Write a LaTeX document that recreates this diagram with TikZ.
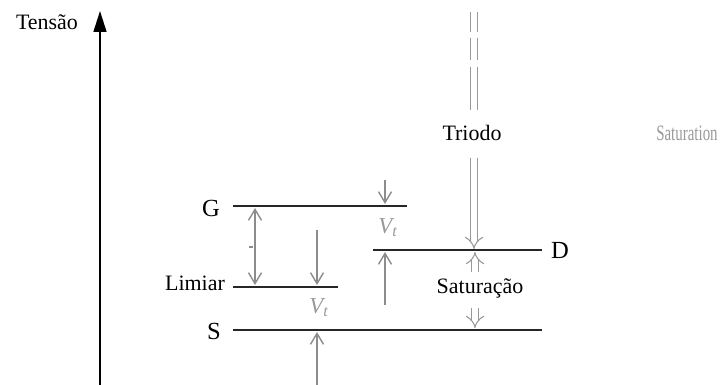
\documentclass[tikz,border=0pt]{standalone}
\usepackage{fontspec}
\setmainfont{Liberation Serif}
\usetikzlibrary{arrows.meta}

\begin{document}
\begin{tikzpicture}[x=0.02cm,y=-0.02cm,
  level/.style={line width=0.9pt,black!85},
  gap/.style={draw=black!45,line width=0.8pt,-{Straight Barb[length=2.2mm,width=2.6mm]}},
  region/.style={draw=black!40,line width=0.6pt,double=white,double distance=1.1mm},
  txt/.style={font=\fontsize{12.5}{14}\selectfont},
  term/.style={font=\fontsize{14}{16}\selectfont},
  vt/.style={font=\fontsize{13}{15}\selectfont\itshape,text=black!40}]

% page frame
\useasboundingbox (0,0) rectangle (728,385);

% Voltage axis
\coordinate (ax0) at (100,385);
\coordinate (ax1) at (100,11);
\draw[line width=0.9pt,-{Triangle[length=4.2mm,width=2.6mm]}] (ax0) -- (ax1);
\node[txt] (tensao) at (47,22) {Tensão};

% Terminal levels
\coordinate (G1) at (233,206);
\coordinate (G2) at (407,206);
\coordinate (L1) at (233,287);
\coordinate (L2) at (338,287);
\coordinate (S1) at (233,330);
\coordinate (S2) at (542,330);
\coordinate (D1) at (373,250);
\coordinate (D2) at (542,250);

\draw[level] (G1) -- (G2);
\draw[level] (L1) -- (L2);
\draw[level] (S1) -- (S2);
\draw[level] (D1) -- (D2);

% Level labels
\node[term] (g) at (211,208) {G};
\node[txt] (limiar) at (195,283) {Limiar};
\node[term] (s) at (214,331) {S};
\node[term] (d) at (560,250) {D};

% G -- threshold distance
\coordinate (a1) at (255,208);
\coordinate (a2) at (255,285);
\draw[gap,{Straight Barb[length=2.2mm,width=2.6mm]}-{Straight Barb[length=2.2mm,width=2.6mm]}] (a1) -- (a2);
\draw[black!45,line width=0.6pt] (249,247) -- (253,247);

% V_t between threshold and S
\coordinate (b1) at (317,230);
\coordinate (b2) at (317,285);
\coordinate (b3) at (317,385);
\coordinate (b4) at (317,332);
\draw[gap] (b1) -- (b2);
\draw[gap] (b3) -- (b4);
\node[vt] (vt1) at (319,308) {V\textsubscript{t}};

% V_t between G and D
\coordinate (c1) at (385,180);
\coordinate (c2) at (385,204);
\coordinate (c3) at (385,305);
\coordinate (c4) at (385,252);
\draw[gap] (c1) -- (c2);
\draw[gap] (c3) -- (c4);
\node[vt] (vt2) at (388,228) {V\textsubscript{t}};

% Triode region (broken double line)
\draw[region] (474,12) -- (474,32);
\draw[region] (474,38) -- (474,60);
\draw[region] (474,67) -- (474,110);
\node[txt] (triodo) at (472,133) {Triodo};
\coordinate (t1) at (474,158);
\coordinate (t2) at (474,249);
\draw[region,-{Implies}] (t1) -- (t2);

% Saturation region
\coordinate (u1) at (475,272);
\coordinate (u2) at (475,252);
\coordinate (u3) at (475,308);
\coordinate (u4) at (475,328);
\draw[region,-{Implies}] (u1) -- (u2);
\draw[region,-{Implies}] (u3) -- (u4);
\node[txt] (saturacao) at (480,288) {Saturação};

% leftover English label
\node[txt,text=black!40,xscale=0.68] (saturation) at (687,133) {Saturation};

\end{tikzpicture}
\end{document}
